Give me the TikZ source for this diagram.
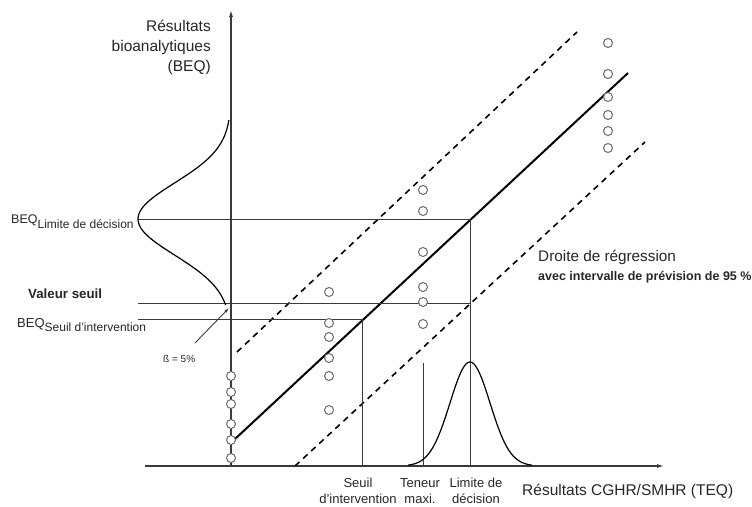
\documentclass[tikz,border=0pt]{standalone}
\usepackage{fontspec}
\setmainfont{Liberation Sans}
\usepackage{tikz}
\usetikzlibrary{positioning, arrows.meta}
\definecolor{lineGray}{HTML}{3A3A3A}
\definecolor{dotGray}{HTML}{6A6A6A}
\definecolor{textGray}{HTML}{262626}
\tikzstyle{axis} = [
    draw = lineGray,
    line width = 1.3pt,
    -{Latex[length = 7pt, width = 4pt]}
]
\tikzstyle{guide} = [
    draw = lineGray,
    line width = 0.9pt
]
\tikzstyle{regression} = [
    draw = black,
    line width = 2pt
]
\tikzstyle{band} = [
    draw = black,
    line width = 1.6pt,
    dash pattern = on 6pt off 5pt
]
\tikzstyle{density} = [
    draw = black,
    line width = 1.2pt
]
\tikzstyle{obs} = [
    circle,
    draw = dotGray,
    fill = white,
    line width = 1pt,
    minimum size = 9pt,
    inner sep = 0pt
]
\tikzstyle{lbl} = [
    text = textGray,
    inner sep = 0pt
]

\begin{document}
\begin{tikzpicture}[x = 1pt, y = -1pt]

                \useasboundingbox (0,0) rectangle (752,506);

                % axes
                \coordinate (origin) at (231,466);
                \coordinate (yTop) at (231,10);
                \coordinate (xStart) at (145,466);
                \coordinate (xEnd) at (664,466);
                \draw [axis] (origin) -- (yTop);
                \draw [axis] (xStart) -- (xEnd);

                % regression line and 95 % band
                \coordinate (regLow) at (235,439);
                \coordinate (regHigh) at (628,73);
                \coordinate (bandUpLow) at (237,352);
                \coordinate (bandUpHigh) at (577,32);
                \coordinate (bandDownLow) at (295,466);
                \coordinate (bandDownHigh) at (645,142);
                \draw [band] (bandUpLow) -- (bandUpHigh);
                \draw [band] (bandDownLow) -- (bandDownHigh);
                \draw [regression] (regLow) -- (regHigh);

                % guide lines
                \coordinate (limitLeft) at (138,219);
                \coordinate (limitHit) at (470,219);
                \coordinate (limitFoot) at (470,466);
                \coordinate (valueLeft) at (138,303);
                \coordinate (valueRight) at (470,303);
                \coordinate (seuilLeft) at (138,319);
                \coordinate (seuilHit) at (362,319);
                \coordinate (seuilFoot) at (362,466);
                \coordinate (maxTop) at (423,363);
                \coordinate (maxFoot) at (423,466);
                \draw [guide] (limitLeft) -- (limitHit) -- (limitFoot);
                \draw [guide] (valueLeft) -- (valueRight);
                \draw [guide] (seuilLeft) -- (seuilHit) -- (seuilFoot);
                \draw [guide] (maxTop) -- (maxFoot);

                % distributions
                \draw [density] plot [domain = 120:305, samples = 90]
                    ({231 - 93*exp(-((\x - 219)^2)/2600)}, \x);
                \draw [density] plot [domain = 408:532, samples = 90]
                    (\x, {466 - 104*exp(-((\x - 470)^2)/800)});

                % beta arrow
                \node [lbl, font = \fontsize{10}{10}\selectfont, anchor = base west] (betaLabel) at (163,362) {ß = 5\%};
                \coordinate (betaFrom) at (195,343);
                \coordinate (betaTip) at (229,308);
                \draw [guide, -{Latex[length = 5pt, width = 3pt]}] (betaFrom) -- (betaTip);

                % observations
                \foreach \y [count = \i] in {376,392,404,424,440,458}
                    \node [obs] (obsA\i) at (231,\y) {};
                \foreach \y [count = \i] in {292,323,337,358,376,410}
                    \node [obs] (obsB\i) at (329,\y) {};
                \foreach \y [count = \i] in {190,211,252,287,302,324}
                    \node [obs] (obsC\i) at (423,\y) {};
                \foreach \y [count = \i] in {43,74,97,115,131,148}
                    \node [obs] (obsD\i) at (608,\y) {};

                % labels
                \node [lbl, font = \fontsize{15.5}{20}\selectfont, align = right, anchor = north east] (yLabel) at (211,20) {Résultats\\bioanalytiques\\(BEQ)};
                \node [lbl, font = \fontsize{12.5}{14}\selectfont, anchor = base west] (beqLimit) at (11,223) {BEQ\raisebox{-5pt}{\fontsize{12}{12}\selectfont Limite de décision}};
                \node [lbl, font = \fontsize{13.3}{15}\selectfont\bfseries, anchor = base west] (valueLabel) at (28,298) {Valeur seuil};
                \node [lbl, font = \fontsize{13}{14}\selectfont, anchor = base west] (beqSeuil) at (17,327) {BEQ\raisebox{-4pt}{\fontsize{12}{12}\selectfont Seuil d'intervention}};
                \node [lbl, font = \fontsize{15.3}{18}\selectfont, anchor = base west] (regLabel) at (538,261) {Droite de régression};
                \node [lbl, font = \fontsize{12.5}{14}\selectfont\bfseries, anchor = base west] (bandLabel) at (538,280) {avec intervalle de prévision de 95 \%};
                \node [lbl, font = \fontsize{13}{16}\selectfont, align = center, anchor = north] (seuilLabel) at (358,478) {Seuil\\d'intervention};
                \node [lbl, font = \fontsize{13}{16}\selectfont, align = center, anchor = north] (maxLabel) at (420,478) {Teneur\\maxi.};
                \node [lbl, font = \fontsize{13}{16}\selectfont, align = center, anchor = north] (limitLabel) at (476,478) {Limite de\\décision};
                \node [lbl, font = \fontsize{15.5}{18}\selectfont, anchor = base west] (xLabel) at (522,495) {Résultats CGHR/SMHR (TEQ)};

            \end{tikzpicture}
\end{document}
